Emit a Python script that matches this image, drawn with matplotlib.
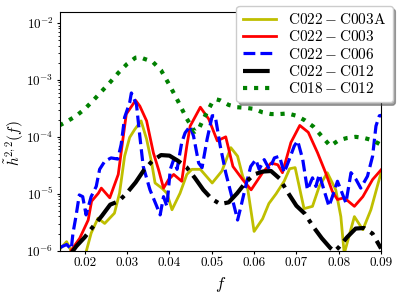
import numpy as np
import matplotlib
matplotlib.use('Agg')
import matplotlib.pyplot as plt

# LaTeX-like look with the bundled Computer Modern fonts
plt.rcParams['font.family'] = 'serif'
plt.rcParams['font.serif'] = ['cmr10']
plt.rcParams['mathtext.fontset'] = 'cm'
plt.rcParams['axes.formatter.use_mathtext'] = True
plt.rcParams['font.size'] = 9.5

# values: frequency and log10 of the amplitude
f_c003a = [0.0141, 0.0157, 0.0169, 0.0185, 0.0203, 0.0215, 0.0231, 0.0247, 0.0270, 0.0282,
           0.0294, 0.0306, 0.0318, 0.0333, 0.0346, 0.0358, 0.0366, 0.0382, 0.0394, 0.0406,
           0.0425, 0.0441, 0.0453, 0.0473, 0.0501, 0.0524, 0.0545, 0.0561, 0.0573, 0.0584,
           0.0600, 0.0620, 0.0635, 0.0652, 0.0671, 0.0684, 0.0697, 0.0718, 0.0738, 0.0754,
           0.0773, 0.0793, 0.0805, 0.0813, 0.0837, 0.0857, 0.0876, 0.0900]
h_c003a = [-5.97, -5.84, -6.02, -6.2, -6.02, -5.69, -5.43, -5.52, -5.34, -4.99,
           -4.34, -4.01, -3.87, -3.72, -4.04, -4.46, -4.81, -4.90, -4.99, -5.28,
           -4.99, -4.66, -4.57, -4.57, -4.81, -4.60, -4.19, -4.34, -4.69, -4.87,
           -5.66, -5.44, -5.17, -5.00, -4.78, -4.56, -4.54, -5.26, -5.22, -4.87,
           -4.63, -4.93, -5.40, -6.05, -5.40, -5.63, -5.28, -4.63]

f_c003 = [0.0155, 0.0168, 0.0188, 0.0208, 0.0216, 0.0232, 0.0239, 0.0259, 0.0279, 0.0290,
          0.0298, 0.0320, 0.0330, 0.0346, 0.0362, 0.0374, 0.0386, 0.0398, 0.0410, 0.0429,
          0.0441, 0.0449, 0.0473, 0.0493, 0.0513, 0.0533, 0.0550, 0.0573, 0.0593, 0.0620,
          0.0640, 0.0656, 0.0667, 0.0687, 0.0708, 0.0728, 0.0750, 0.0769, 0.0785, 0.0797,
          0.0813, 0.0837, 0.0857, 0.0880, 0.0900]
h_c003 = [-6.2, -5.99, -5.78, -5.46, -5.13, -4.99, -4.90, -5.07, -4.66, -4.04,
          -3.60, -3.36, -3.46, -3.72, -4.28, -4.57, -4.90, -4.75, -4.66, -4.78,
          -4.16, -3.81, -3.48, -3.69, -4.07, -4.00, -4.52, -4.75, -4.93, -4.63,
          -4.46, -4.49, -4.63, -4.10, -3.80, -3.92, -4.28, -4.63, -4.96, -5.10,
          -5.07, -5.22, -5.05, -4.75, -4.58]

f_c006 = [0.0141, 0.0145, 0.0157, 0.0168, 0.0172, 0.0179, 0.0187, 0.0195, 0.0203, 0.0215,
          0.0227, 0.0235, 0.0247, 0.0262, 0.0278, 0.0286, 0.0294, 0.0306, 0.0310, 0.0322,
          0.0330, 0.0338, 0.0354, 0.0370, 0.0378, 0.0386, 0.0394, 0.0402, 0.0410, 0.0418,
          0.0429, 0.0437, 0.0449, 0.0457, 0.0469, 0.0477, 0.0489, 0.0501, 0.0508, 0.0520,
          0.0533, 0.0549, 0.0561, 0.0569, 0.0580, 0.0592, 0.0604, 0.0612, 0.0624, 0.0636,
          0.0648, 0.0660, 0.0671, 0.0683, 0.0695, 0.0703, 0.0715, 0.0726, 0.0738, 0.0746,
          0.0754, 0.0765, 0.0777, 0.0785, 0.0797, 0.0805, 0.0817, 0.0829, 0.0841, 0.0852,
          0.0868, 0.0880, 0.0888, 0.0896, 0.0902]
h_c006 = [-5.95, -5.93, -5.89, -5.97, -5.69, -5.40, -5.02, -5.05, -5.37, -5.05,
          -4.87, -4.57, -4.43, -4.37, -4.39, -4.13, -3.66, -3.40, -3.23, -3.43,
          -3.99, -4.52, -4.93, -5.22, -5.37, -5.05, -5.22, -4.57, -4.40, -4.57,
          -4.10, -3.93, -3.81, -3.99, -4.46, -4.54, -4.04, -3.63, -3.63, -4.16,
          -4.63, -5.10, -5.46, -5.22, -4.87, -4.52, -4.40, -4.57, -4.40, -4.57,
          -4.37, -4.34, -4.63, -4.40, -4.16, -4.07, -4.40, -4.93, -4.72, -4.87,
          -4.66, -4.93, -5.22, -5.05, -4.78, -4.93, -5.16, -4.63, -4.75, -4.90,
          -4.69, -4.34, -3.81, -3.63, -3.62]

f_c012 = [0.0165, 0.017, 0.018, 0.020, 0.022, 0.024, 0.026, 0.028, 0.030, 0.032,
          0.034, 0.036, 0.038, 0.040, 0.042, 0.044, 0.046, 0.048, 0.050, 0.052,
          0.054, 0.056, 0.058, 0.060, 0.062, 0.064, 0.066, 0.068, 0.070, 0.072,
          0.074, 0.076, 0.078, 0.079, 0.080, 0.082, 0.084, 0.086, 0.088, 0.090]
h_c012 = [-6.08, -6.02, -5.92, -5.76, -5.57, -5.39, -5.19, -5.13, -4.98, -4.80,
          -4.58, -4.42, -4.32, -4.33, -4.42, -4.53, -4.72, -4.93, -5.09, -5.18,
          -5.15, -4.99, -4.80, -4.66, -4.61, -4.60, -4.73, -4.98, -5.21, -5.35,
          -5.58, -5.78, -5.95, -6.01, -5.94, -5.76, -5.61, -5.60, -5.70, -5.96]

f_c018 = [0.014, 0.016, 0.018, 0.020, 0.022, 0.024, 0.026, 0.028, 0.030, 0.032,
          0.033, 0.034, 0.036, 0.038, 0.040, 0.042, 0.044, 0.046, 0.047, 0.048,
          0.050, 0.051, 0.052, 0.054, 0.056, 0.058, 0.060, 0.062, 0.064, 0.066,
          0.068, 0.070, 0.072, 0.074, 0.076, 0.078, 0.080, 0.082, 0.084, 0.086,
          0.088, 0.090]
h_c018 = [-3.80, -3.72, -3.63, -3.51, -3.36, -3.20, -3.04, -2.87, -2.72, -2.61,
          -2.60, -2.63, -2.68, -2.83, -3.09, -3.37, -3.67, -3.91, -3.85, -3.69,
          -3.41, -3.34, -3.36, -3.44, -3.48, -3.49, -3.51, -3.57, -3.60, -3.60,
          -3.59, -3.63, -3.71, -3.82, -3.99, -4.16, -4.06, -4.02, -4.00, -4.02,
          -4.06, -4.14]

labels = [r'$\mathrm{C022-C003A}$', r'$\mathrm{C022-C003}$', r'$\mathrm{C022-C006}$',
          r'$\mathrm{C022-C012}$', r'$\mathrm{C018-C012}$']
xticks = [0.02, 0.03, 0.04, 0.05, 0.06, 0.07, 0.08, 0.09]

fig = plt.figure(figsize=(3.99, 2.94), dpi=100)
ax = fig.add_axes([0.150, 0.147, 0.805, 0.812])

ax.plot(f_c003a, 10 ** np.array(h_c003a), color='y', lw=2, label=labels[0])
ax.plot(f_c003, 10 ** np.array(h_c003), color='r', lw=2, label=labels[1])
ax.plot(f_c006, 10 ** np.array(h_c006), color='b', lw=2.3, ls='--', label=labels[2])
ax.plot(f_c012, 10 ** np.array(h_c012), color='k', lw=3, ls='-.', label=labels[3])
ax.plot(f_c018, 10 ** np.array(h_c018), color='g', lw=3, ls=':', label=labels[4])

ax.set_yscale('log')
ax.set_xlim(0.0141, 0.09)
ax.set_ylim(1e-6, 1.55e-2)
ax.set_xticks(xticks)
ax.set_xticklabels(['%.2f' % t for t in xticks])
ax.tick_params(which='major', length=2.5, pad=2)
ax.tick_params(which='minor', length=1.5)

ax.set_xlabel(r'$f$', fontsize=12)
ax.set_ylabel(r'$\tilde{h}^{2,2}(f)$', fontsize=11)
ax.xaxis.set_label_coords(0.50, -0.10)
ax.yaxis.set_label_coords(-0.105, 0.45)

ax.legend(loc='upper right', bbox_to_anchor=(1.036, 1.025), borderaxespad=0,
          fancybox=True, shadow=True, framealpha=1, fontsize=11,
          handlelength=2.2, labelspacing=0.15)

fig.savefig('out.png', dpi=100)
